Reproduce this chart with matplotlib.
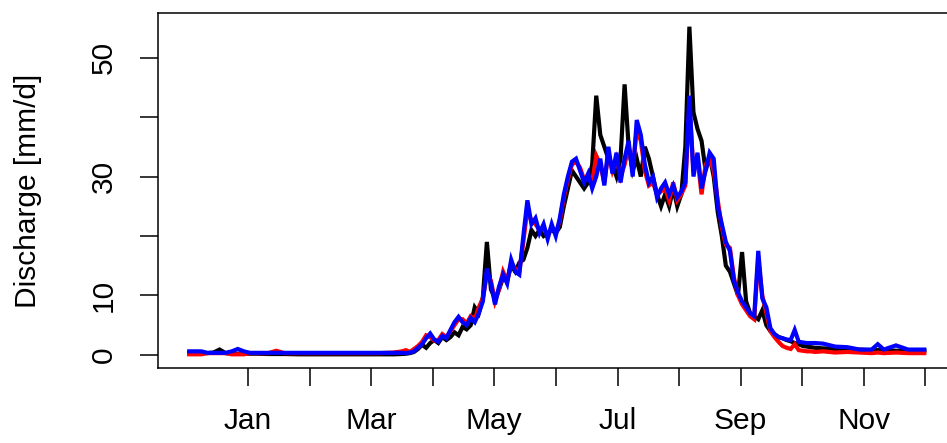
import matplotlib
matplotlib.use("Agg")
import matplotlib.pyplot as plt

# Daily discharge over one water year: observed (black) and two simulations.
# Day numbers are counted from 1 January; negative values fall in December.
flat_days = [-29, -26, -23, -20, -17, -14, -11, -8, -5, -2, 1, 5, 10, 14, 18,
             25, 35, 45, 55, 65, 72, 76]
season_days = list(range(78, 282, 2))
tail_days = [284, 290, 296, 302, 308, 311, 314, 320, 326, 334]
days = flat_days + season_days + tail_days

obs = [
    # December - mid March
    0.3, 0.3, 0.3, 0.3, 0.4, 0.9, 0.3, 0.2, 0.2, 0.2, 0.2, 0.2, 0.15, 0.15,
    0.15, 0.1, 0.1, 0.1, 0.1, 0.1, 0.1, 0.15,
    # snowmelt season
    0.2, 0.3, 0.5, 1.0, 1.7, 1.2, 2.0, 2.5, 2.0, 3.0,
    2.5, 3.0, 3.8, 3.3, 4.7, 4.3, 5.0, 8.0, 7.0, 9.7,
    19.0, 11.0, 9.5, 11.0, 13.0, 12.5, 15.0, 14.0, 15.5, 16.0,
    18.0, 21.0, 20.0, 21.0, 20.0, 20.5, 21.0, 20.5, 21.5, 25.0,
    28.0, 31.0, 30.0, 29.0, 28.0, 29.0, 32.0, 43.6, 37.0, 35.0,
    33.0, 32.0, 30.0, 33.0, 45.5, 35.0, 31.0, 33.0, 30.0, 35.0,
    33.0, 30.0, 27.0, 25.0, 27.0, 25.0, 28.0, 25.0, 27.0, 35.0,
    55.2, 40.8, 38.0, 36.0, 31.0, 33.5, 30.0, 24.0, 20.0, 15.0,
    14.0, 12.0, 10.0, 17.3, 9.0, 7.0, 6.5, 6.0, 7.5, 5.0,
    4.0, 3.5, 3.0, 2.8, 2.5, 2.3, 2.0, 1.8, 1.5, 1.4,
    1.3, 1.2,
    # autumn recession
    1.1, 1.0, 0.9, 0.9, 0.8, 0.8, 0.8, 0.7, 0.7, 0.7,
]

sim_red = [
    0.1, 0.1, 0.1, 0.3, 0.3, 0.3, 0.3, 0.1, 0.1, 0.1, 0.3, 0.3, 0.3, 0.7,
    0.3, 0.3, 0.3, 0.3, 0.3, 0.3, 0.4, 0.6,
    0.8, 0.5, 1.0, 1.5, 2.2, 3.3, 3.0, 2.4, 2.5, 3.5,
    3.0, 4.0, 5.0, 6.0, 6.0, 5.3, 6.5, 6.0, 8.0, 9.5,
    13.5, 12.5, 9.0, 11.0, 14.0, 12.5, 15.5, 14.5, 14.0, 19.0,
    24.5, 22.5, 22.0, 21.0, 21.5, 20.0, 21.5, 20.5, 22.5, 26.5,
    29.5, 32.0, 32.5, 31.5, 29.5, 30.0, 29.0, 33.5, 32.0, 29.0,
    34.0, 31.0, 33.0, 30.0, 32.0, 35.0, 31.0, 38.0, 36.0, 31.0,
    28.5, 29.0, 27.0, 27.5, 28.0, 26.0, 29.0, 26.0, 27.0, 28.5,
    42.0, 31.0, 33.0, 27.0, 32.0, 33.0, 31.0, 26.0, 21.5, 18.5,
    18.0, 13.0, 10.0, 8.5, 7.5, 6.5, 6.0, 16.0, 10.0, 7.0,
    4.0, 3.0, 2.2, 1.5, 1.2, 1.0, 1.8, 0.8, 0.7, 0.6,
    0.6, 0.5,
    0.6, 0.4, 0.5, 0.4, 0.3, 0.4, 0.3, 0.4, 0.3, 0.3,
]

sim_blue = [
    0.6, 0.6, 0.6, 0.35, 0.35, 0.35, 0.35, 0.6, 1.0, 0.6, 0.35, 0.35, 0.35,
    0.35, 0.35, 0.35, 0.35, 0.35, 0.35, 0.35, 0.35, 0.35,
    0.3, 0.4, 0.6, 1.2, 1.8, 2.8, 3.6, 2.6, 2.2, 3.2,
    2.8, 4.2, 5.5, 6.4, 5.5, 5.0, 6.2, 5.5, 7.0, 9.0,
    14.5, 12.0, 8.5, 11.5, 13.5, 12.0, 16.0, 14.0, 13.5, 20.0,
    26.0, 22.0, 23.0, 20.5, 22.0, 19.5, 22.0, 20.0, 23.0, 27.0,
    30.0, 32.5, 33.0, 31.0, 29.0, 30.5, 28.0, 30.0, 33.0, 28.5,
    35.0, 30.5, 34.0, 29.0, 33.0, 36.0, 30.0, 39.5, 37.0, 32.0,
    29.0, 30.0, 26.5, 28.0, 29.0, 27.0, 28.5, 26.5, 27.5, 29.0,
    43.6, 30.0, 34.0, 28.0, 31.0, 34.0, 33.0, 25.0, 22.0, 19.0,
    17.5, 12.5, 10.5, 9.0, 8.0, 7.0, 6.5, 17.5, 9.5, 8.0,
    4.5, 3.5, 3.0, 2.8, 2.6, 2.5, 4.2, 2.2, 2.1, 2.0,
    2.0, 2.0,
    1.9, 1.4, 1.3, 0.9, 0.9, 1.8, 0.9, 1.6, 0.9, 0.9,
]

month_labels = ["Jan", "", "Mar", "", "May", "", "Jul", "", "Sep", "", "Nov", ""]
y_ticks = [0, 10, 20, 30, 40, 50]
y_labels = ["0", "10", "", "30", "", "50"]

plt.rcParams["font.family"] = ["Liberation Sans", "DejaVu Sans"]
FS = 21.5

fig = plt.figure(figsize=(9.47, 4.43), dpi=100)
ax = fig.add_axes([158 / 947, 75 / 443, 789 / 947, 355 / 443])

for series, colour in ((obs, "black"), (sim_red, "red"), (sim_blue, "blue")):
    ax.plot(days, series, color=colour, lw=3.0, solid_joinstyle="miter")

ax.set_xlim(-44.4, 345.2)
ax.set_ylim(-2.2, 57.5)

# month ticks, evenly spaced through the year
ax.set_xticks([i * 365 / 12 for i in range(12)])
ax.set_xticklabels(month_labels, fontsize=FS)
ax.set_yticks(y_ticks)
ax.set_yticklabels(y_labels, fontsize=FS, rotation=90, va="center")

ax.tick_params(axis="x", length=13, width=1.1, pad=15)
ax.tick_params(axis="y", length=13, width=1.1, pad=16)

for side in ("left", "top", "bottom"):
    ax.spines[side].set_linewidth(1.1)
ax.spines["right"].set_visible(False)

ax.set_ylabel("Discharge [mm/d]", fontsize=FS, va="center")
ax.yaxis.set_label_coords(-130 / 789, 0.5)

fig.savefig("out.png", dpi=100)
